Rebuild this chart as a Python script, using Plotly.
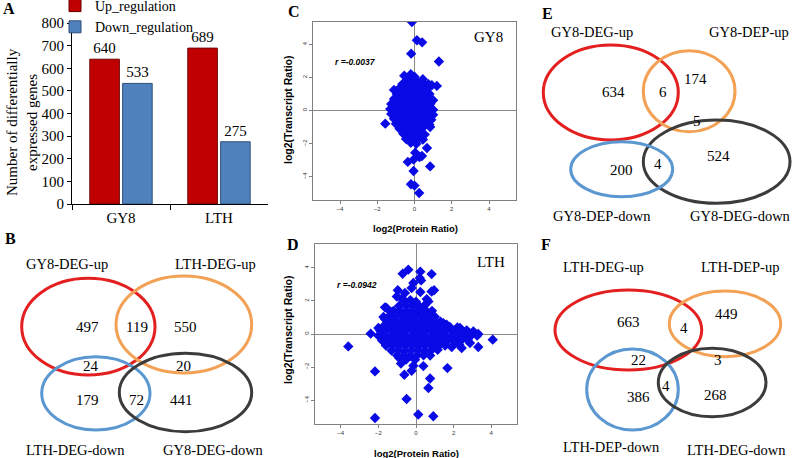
import plotly.graph_objects as go

W, H = 793, 458
SERIF = "Liberation Serif"
SANS = "Liberation Sans"


def px(x):
    return x / W


def py(y):
    return 1 - y / H


# ---------------- data ----------------
categories = ["GY8", "LTH"]
up_regulation = [640, 689]
down_regulation = [533, 275]
bar_ticks = [0, 100, 200, 300, 400, 500, 600, 700, 800]
scatter_ticks = [-4, -2, 0, 2, 4]

# GY8: log2(Protein Ratio), log2(Transcript Ratio)
gy8_points = [
    (-0.14, 5.35), (0.13, 4.25), (0.41, 4.12), (-0.18, 3.44), (1.31, 2.96),
    (1.2, 1.49), (0.93, 1.53), (-1.57, -0.79), (0.67, -2.26), (0.04, -2.54),
    (0.27, -2.8), (0.4, -2.74), (-0.05, -2.96), (-0.36, -3.1), (0.84, -3.37),
    (-0.05, -3.65), (-0.19, -4.45), (0.0, -4.53), (0.25, -4.98),
    (-0.4, 1.9), (-0.15, 1.95), (0.05, 1.85), (-0.55, 2.1), (-0.2, 2.2), (0.0, 2.05),
    (-0.65, 1.6), (-0.35, 1.62), (-0.05, 1.58), (0.25, 1.65), (0.55, 1.55), (0.75, 1.6), (0.45, 1.9),
    (-1.1, 1.25), (-0.85, 1.3), (-0.55, 1.32), (-0.25, 1.28), (0.05, 1.3), (0.35, 1.32), (0.65, 1.25),
    (-0.95, 1.0), (-0.65, 1.02), (-0.35, 0.98), (-0.05, 1.0), (0.25, 1.03), (0.55, 0.97), (0.8, 1.0),
    (-1.1, 0.7), (-0.8, 0.72), (-0.5, 0.68), (-0.2, 0.7), (0.1, 0.72), (0.4, 0.68), (0.7, 0.7), (1.0, 0.62),
    (-1.25, 0.4), (-0.95, 0.42), (-0.65, 0.38), (-0.35, 0.4), (-0.05, 0.42), (0.25, 0.38), (0.55, 0.4), (0.85, 0.42),
    (-1.3, 0.1), (-1.0, 0.12), (-0.7, 0.08), (-0.4, 0.1), (-0.1, 0.12), (0.2, 0.08), (0.5, 0.1), (0.8, 0.12), (1.0, 0.05),
    (-1.25, -0.2), (-0.95, -0.18), (-0.65, -0.22), (-0.35, -0.2), (-0.05, -0.18), (0.25, -0.22), (0.55, -0.2), (0.85, -0.18), (1.0, -0.25),
    (-1.1, -0.5), (-0.8, -0.48), (-0.5, -0.52), (-0.2, -0.5), (0.1, -0.48), (0.4, -0.52), (0.7, -0.5), (0.9, -0.55),
    (-1.0, -0.8), (-0.7, -0.78), (-0.4, -0.82), (-0.1, -0.8), (0.2, -0.78), (0.5, -0.82), (0.8, -0.85),
    (-0.8, -1.1), (-0.5, -1.08), (-0.2, -1.12), (0.1, -1.1), (0.4, -1.08), (0.84, -0.99),
    (-0.6, -1.4), (-0.3, -1.38), (0.0, -1.42), (0.3, -1.4), (0.55, -1.45),
    (-0.45, -1.72), (-0.15, -1.7), (0.15, -1.72), (0.45, -1.75),
    (-0.2, -1.95), (0.1, -2.0),
]

# LTH: log2(Protein Ratio), log2(Transcript Ratio)
lth_points = [
    (-0.41, 3.89), (-0.71, 3.64), (0.23, 3.77), (0.2, 3.38), (0.27, 3.24), (0.83, 3.62),
    (-0.14, 3.08), (-0.23, 2.78), (-0.97, 2.64), (-0.59, 2.48), (0.23, 2.54), (0.83, 2.57),
    (0.96, 2.64), (-1.02, 2.27), (-0.76, 2.13), (0.57, 2.11), (0.66, 1.97), (-1.65, 1.61),
    (-1.56, 1.57), (-1.29, 1.31), (-1.73, 1.03), (-1.65, 0.91), (-2.0, 0.36), (-2.41, 0.02),
    (-3.6, -0.75), (4.08, -0.34), (3.31, 0.0), (3.31, -0.79), (2.87, -0.54), (-2.18, -2.26),
    (-0.62, -2.46), (-0.23, -2.22), (-0.14, -1.92), (0.39, -1.94), (0.75, -2.69), (0.66, -3.26),
    (1.67, -2.06), (-0.5, -3.93), (-2.18, -5.08), (0.12, -4.87), (0.92, -4.97),
    (-0.89, -1.45), (-0.53, -1.55), (-0.8, -1.79), (-0.05, -1.55),
    (1.45, 0.66), (1.63, 0.56), (2.34, 0.36), (2.7, 0.22), (3.05, 0.16), (2.43, -0.85), (1.9, -0.79),
    (-0.6, 2.0), (-0.3, 2.05), (0.0, 1.95),
    (-0.9, 1.7), (-0.55, 1.72), (-0.2, 1.68), (0.15, 1.7), (0.45, 1.72),
    (-1.2, 1.4), (-0.85, 1.42), (-0.5, 1.38), (-0.15, 1.4), (0.2, 1.42), (0.55, 1.38), (0.85, 1.4),
    (-1.4, 1.1), (-1.05, 1.12), (-0.7, 1.08), (-0.35, 1.1), (0.0, 1.12), (0.35, 1.08), (0.7, 1.1), (1.0, 1.05),
    (-1.5, 0.8), (-1.15, 0.82), (-0.8, 0.78), (-0.45, 0.8), (-0.1, 0.82), (0.25, 0.78), (0.6, 0.8), (0.95, 0.82), (1.3, 0.75),
    (-1.7, 0.5), (-1.35, 0.52), (-1.0, 0.48), (-0.65, 0.5), (-0.3, 0.52), (0.05, 0.48), (0.4, 0.5), (0.75, 0.52),
    (1.1, 0.48), (1.45, 0.45), (1.8, 0.42), (2.2, 0.4),
    (-1.9, 0.2), (-1.55, 0.22), (-1.2, 0.18), (-0.85, 0.2), (-0.5, 0.22), (-0.15, 0.18), (0.2, 0.2), (0.55, 0.22),
    (0.9, 0.18), (1.25, 0.2), (1.6, 0.22), (1.95, 0.18), (2.3, 0.2), (2.65, 0.15), (3.0, 0.05),
    (-2.0, -0.1), (-1.65, -0.08), (-1.3, -0.12), (-0.95, -0.1), (-0.6, -0.08), (-0.25, -0.12), (0.1, -0.1), (0.45, -0.08),
    (0.8, -0.12), (1.15, -0.1), (1.5, -0.08), (1.85, -0.12), (2.2, -0.1), (2.55, -0.08), (2.9, -0.12), (3.25, -0.1),
    (-1.8, -0.4), (-1.45, -0.38), (-1.1, -0.42), (-0.75, -0.4), (-0.4, -0.38), (-0.05, -0.42), (0.3, -0.4), (0.65, -0.38),
    (1.0, -0.42), (1.35, -0.4), (1.7, -0.38), (2.05, -0.42), (2.4, -0.4), (2.75, -0.35),
    (-1.6, -0.7), (-1.25, -0.68), (-0.9, -0.72), (-0.55, -0.7), (-0.2, -0.68), (0.15, -0.72), (0.5, -0.7), (0.85, -0.68),
    (1.2, -0.72), (1.55, -0.7), (2.3, -0.65),
    (-1.3, -1.0), (-0.95, -0.98), (-0.6, -1.02), (-0.25, -1.0), (0.1, -0.98), (0.45, -1.02), (0.8, -1.0), (1.15, -0.95),
    (-1.0, -1.3), (-0.65, -1.28), (-0.3, -1.32), (0.05, -1.3), (0.4, -1.28), (0.75, -1.3),
]

gy8_protein = [p[0] for p in gy8_points]
gy8_transcript = [p[1] for p in gy8_points]
lth_protein = [p[0] for p in lth_points]
lth_transcript = [p[1] for p in lth_points]

# Venn diagrams: set labels and region counts
venn_b_sets = ["GY8-DEG-up", "LTH-DEG-up", "LTH-DEG-down", "GY8-DEG-down"]
venn_b_counts = [497, 119, 550, 24, 20, 179, 72, 441]
venn_e_sets = ["GY8-DEG-up", "GY8-DEP-up", "GY8-DEP-down", "GY8-DEG-down"]
venn_e_counts = [634, 6, 174, 5, 524, 200, 4]
venn_f_sets = ["LTH-DEG-up", "LTH-DEP-up", "LTH-DEP-down", "LTH-DEG-down"]
venn_f_counts = [663, 4, 449, 22, 3, 4, 386, 268]

# ---------------- styling / layout positions (pixels) ----------------
RED = "#E3201F"
ORANGE = "#F2A155"
BLUE = "#5B97D0"
DARK = "#3C3C3C"

venn_b_ellipses = [((21.7, 278.3), (155, 375), RED), ((116, 276), (251.7, 373), ORANGE),
                   ((41.7, 356.7), (150, 430), BLUE), ((119.3, 353.3), (251.7, 431.7), DARK)]
venn_b_label_pos = [(66.7, 263.5), (215, 263.5), (75, 450), (213, 450)]
venn_b_count_pos = [(87.3, 326.7), (137.3, 326.7), (185, 326.7), (90.7, 366), (183.3, 366),
                    (87.3, 400), (136.7, 400), (181.7, 400)]

venn_e_ellipses = [((543.3, 45), (678.3, 140), RED), ((643.3, 50.7), (735, 131.7), ORANGE),
                   ((643.3, 120), (790, 203.3), DARK), ((570.7, 141.7), (672.7, 196.7), BLUE)]
venn_e_label_pos = [(591.7, 32.3), (749, 32.3), (601.7, 216), (740, 216)]
venn_e_count_pos = [(613.3, 92.3), (663.3, 92.3), (695, 79), (696.7, 120.7), (718.3, 155.7),
                    (621.7, 170), (658.3, 164.3)]

venn_f_ellipses = [((555, 290), (701.7, 370), RED), ((669.3, 291), (780.7, 356.7), ORANGE),
                   ((586.7, 349), (678.3, 430), BLUE), ((658.3, 348.3), (766, 416.7), DARK)]
venn_f_label_pos = [(603.3, 266.7), (740, 266.7), (611.7, 446.7), (736.7, 450)]
venn_f_count_pos = [(628.3, 322.3), (684, 328.3), (726.7, 314.3), (638.3, 360), (718.3, 360),
                    (666, 385.7), (638.3, 396.7), (715, 395)]

fig = go.Figure()

# ---------------- Panel A: bars ----------------
fig.add_trace(go.Bar(
    x=categories, y=up_regulation, name="Up_regulation",
    marker=dict(color="#C00000", line=dict(color="#6E0000", width=1)),
    text=up_regulation, textposition="outside", cliponaxis=False,
    textfont=dict(family=SERIF, size=15, color="black"),
    xaxis="x", yaxis="y"))
fig.add_trace(go.Bar(
    x=categories, y=down_regulation, name="Down_regulation",
    marker=dict(color="#4F81BD", line=dict(color="#2F4F7A", width=1)),
    text=down_regulation, textposition="outside", cliponaxis=False,
    textfont=dict(family=SERIF, size=15, color="black"),
    xaxis="x", yaxis="y"))

# ---------------- Panels C, D: scatter ----------------
fig.add_trace(go.Scatter(
    x=gy8_protein, y=gy8_transcript, mode="markers", showlegend=False,
    marker=dict(symbol="diamond", size=8, color="#0A0AE6", line=dict(width=0)),
    xaxis="x2", yaxis="y2"))
fig.add_trace(go.Scatter(
    x=lth_protein, y=lth_transcript, mode="markers", showlegend=False,
    marker=dict(symbol="diamond", size=8, color="#0A0AE6", line=dict(width=0)),
    xaxis="x3", yaxis="y3"))

scatter_axis = dict(
    showgrid=False, showline=True, mirror=True, linecolor="#808080", linewidth=1,
    zeroline=True, zerolinecolor="#8A8A8A", zerolinewidth=1,
    ticks="outside", ticklen=3, tickcolor="#808080", tickvals=scatter_ticks,
    tickfont=dict(family=SANS, size=6, color="#333333"),
)

fig.update_layout(
    width=W, height=H,
    margin=dict(l=0, r=0, t=0, b=0, autoexpand=False),
    paper_bgcolor="white", plot_bgcolor="white",
    barmode="group", bargap=0.33, bargroupgap=0.1,
    showlegend=True,
    legend=dict(x=px(55), y=1 + 10 / H, xanchor="left", yanchor="top",
                font=dict(family=SERIF, size=14, color="black"),
                bgcolor="rgba(0,0,0,0)", tracegroupgap=0, itemwidth=30),
    xaxis=dict(domain=[px(72), px(268)], anchor="y", type="category",
               showline=True, linecolor="black", linewidth=1, ticks="outside",
               tickson="boundaries", ticklen=5, tickcolor="black", showgrid=False,
               tickfont=dict(family=SERIF, size=15, color="black")),
    yaxis=dict(domain=[py(204), py(23)], anchor="x", range=[0, 800], tickvals=bar_ticks,
               showline=True, linecolor="black", linewidth=1, ticks="outside",
               ticklen=4, tickcolor="black", showgrid=False, zeroline=False,
               tickfont=dict(family=SERIF, size=15, color="black")),
    xaxis2=dict(domain=[px(313), px(516)], anchor="y2", range=[-5.45, 5.45], **scatter_axis),
    yaxis2=dict(domain=[py(200), py(22)], anchor="x2", range=[-5.4, 5.35], tickangle=-90, **scatter_axis),
    xaxis3=dict(domain=[px(315), px(517)], anchor="y3", range=[-5.37, 5.37], **scatter_axis),
    yaxis3=dict(domain=[py(424), py(244)], anchor="x3", range=[-5.44, 5.44], tickangle=-90, **scatter_axis),
)

annotations = []
shapes = []


def add_text(text, x, y, size, family=SERIF, color="black", angle=0):
    annotations.append(dict(text=text, x=px(x), y=py(y), xref="paper", yref="paper",
                            showarrow=False, xanchor="center", yanchor="middle",
                            textangle=angle, font=dict(family=family, size=size, color=color)))


# panel letters
for letter, (lx, ly) in zip("ABCDEF", [(9, 9), (10, 238), (294, 11), (293, 244), (547, 13), (546, 244)]):
    add_text("<b>%s</b>" % letter, lx, ly, 16)

# Panel A y title
add_text("Number of differentially<br>expressed genes", 22, 122, 15, angle=-90)

# Panel C / D annotations
add_text("<b>log2(Protein Ratio)</b>", 415, 228, 9.5, family=SANS)
add_text("<b>log2(Transcript Ratio)</b>", 288, 110, 10.5, family=SANS, angle=-90)
add_text("<b>log2(Protein Ratio)</b>", 416, 453, 9.5, family=SANS)
add_text("<b>log2(Transcript Ratio)</b>", 288, 330, 10.5, family=SANS, angle=-90)
add_text("<b><i>r =-0.0037</i></b>", 355, 62, 8.5, family=SANS)
add_text("<b><i>r =-0.0942</i></b>", 357, 285, 8.5, family=SANS)
add_text("GY8", 488, 37, 15)
add_text("LTH", 491, 262, 15)

# Venn diagrams
for ellipses, sets, set_pos, counts, count_pos in [
    (venn_b_ellipses, venn_b_sets, venn_b_label_pos, venn_b_counts, venn_b_count_pos),
    (venn_e_ellipses, venn_e_sets, venn_e_label_pos, venn_e_counts, venn_e_count_pos),
    (venn_f_ellipses, venn_f_sets, venn_f_label_pos, venn_f_counts, venn_f_count_pos),
]:
    for (x0, y0), (x1, y1), col in ellipses:
        shapes.append(dict(type="circle", xref="paper", yref="paper",
                           x0=px(x0), x1=px(x1), y0=py(y1), y1=py(y0),
                           line=dict(color=col, width=3), fillcolor="rgba(0,0,0,0)"))
    for name, (sx, sy) in zip(sets, set_pos):
        add_text(name, sx, sy, 14.5)
    for c, (cx, cy) in zip(counts, count_pos):
        add_text(str(c), cx, cy, 15)

fig.update_layout(annotations=annotations, shapes=shapes)

fig.write_html("out.html",
               config={"displayModeBar": False},
               post_script="document.body.style.margin='0';document.body.style.padding='0';"
                           "document.body.style.overflow='hidden';")
